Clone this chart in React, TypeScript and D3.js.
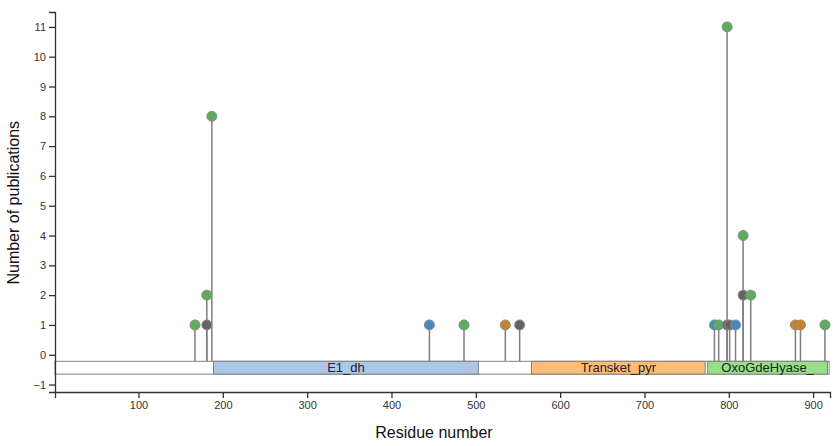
import React, { useEffect, useRef } from "react";
import * as d3 from "d3";

const positions = [167, 181, 181, 187, 445, 486, 535, 552, 783, 788, 798, 798, 801, 808, 817, 817, 826, 879, 885, 914];
const counts = [1, 1, 2, 8, 1, 1, 1, 1, 1, 1, 1, 11, 1, 1, 2, 4, 2, 1, 1, 1];
const types = ["missense", "other", "missense", "missense", "splice", "missense", "truncating", "other", "splice", "missense", "other", "missense", "other", "splice", "other", "missense", "missense", "truncating", "truncating", "missense"];

const domainNames = ["E1_dh", "Transket_pyr", "OxoGdeHyase_"];
const domainStarts = [189, 566, 775];
const domainEnds = [503, 772, 917];
const domainColors = ["#aec7e8", "#ffbb78", "#98df8a"];

const proteinLength = 919;
const xTicks = [100, 200, 300, 400, 500, 600, 700, 800, 900];
const yTicks = [-1, 0, 1, 2, 3, 4, 5, 6, 7, 8, 9, 10, 11];

const typeColors: Record<string, string> = {
  missense: "#5cae5c",
  other: "#646464",
  splice: "#3f8cc4",
  truncating: "#c7842a",
};

const W = 839;
const H = 446;

export default function App() {
  const ref = useRef<SVGSVGElement>(null);
  useEffect(() => {
    const svg = d3.select(ref.current);
    svg.selectAll("*").remove();
    const x = d3.scaleLinear().domain([1, 920]).range([55, 830]);
    const y = d3.scaleLinear().domain([-1.25, 11.5]).range([392, 12]);
    const font = "'Liberation Sans', Arial, sans-serif";

    const barTop = y(-0.22);
    const barBot = y(-0.65);

    // stems
    const pts = positions.map((p, i) => ({ p, c: counts[i], t: types[i] }));
    svg.append("g").selectAll("line").data(pts).join("line")
      .attr("x1", d => x(d.p)).attr("x2", d => x(d.p))
      .attr("y1", barTop).attr("y2", d => y(d.c))
      .attr("stroke", "#7f7f7f").attr("stroke-width", 1.5);

    // protein backbone
    svg.append("rect")
      .attr("x", x(1)).attr("y", barTop)
      .attr("width", x(proteinLength) - x(1)).attr("height", barBot - barTop)
      .attr("fill", "#ffffff").attr("stroke", "#808080").attr("stroke-width", 1);

    const dg = svg.append("g");
    domainNames.forEach((n, i) => {
      dg.append("rect")
        .attr("x", x(domainStarts[i])).attr("y", barTop)
        .attr("width", x(domainEnds[i]) - x(domainStarts[i])).attr("height", barBot - barTop)
        .attr("fill", domainColors[i]).attr("stroke", "#808080").attr("stroke-width", 1);
      dg.append("text")
        .attr("x", (x(domainStarts[i]) + x(domainEnds[i])) / 2)
        .attr("y", (barTop + barBot) / 2 + 4.5)
        .attr("text-anchor", "middle")
        .attr("font-family", font).attr("font-size", 13).attr("fill", "#222")
        .text(n);
    });

    // circles
    svg.append("g").selectAll("circle").data(pts).join("circle")
      .attr("cx", d => x(d.p)).attr("cy", d => y(d.c)).attr("r", 5)
      .attr("fill", d => typeColors[d.t]).attr("stroke", "#8a8a8a").attr("stroke-width", 1);

    // axes
    const gx = svg.append("g").attr("transform", `translate(0,${y(-1.25)})`)
      .call(d3.axisBottom(x).tickValues(xTicks).tickSize(6));
    const gy = svg.append("g").attr("transform", `translate(${x(1)},0)`)
      .call(d3.axisLeft(y).tickValues(yTicks).tickSize(6));
    [gx, gy].forEach(g => {
      g.selectAll("path,line").attr("stroke", "#333").attr("stroke-width", 1.3);
      g.selectAll("text").attr("font-family", font).attr("font-size", 11).attr("fill", "#333");
    });

    svg.append("text")
      .attr("x", 434).attr("y", 438).attr("text-anchor", "middle")
      .attr("font-family", font).attr("font-size", 16).attr("fill", "#111")
      .text("Residue number");
    svg.append("text")
      .attr("transform", `translate(19,${y(5.1)}) rotate(-90)`)
      .attr("text-anchor", "middle")
      .attr("font-family", font).attr("font-size", 16).attr("fill", "#111")
      .text("Number of publications");
  }, []);
  return (
    <svg ref={ref} width={W} height={H} style={{ position: "absolute", left: 0, top: 0, background: "#fff" }} />
  );
}
